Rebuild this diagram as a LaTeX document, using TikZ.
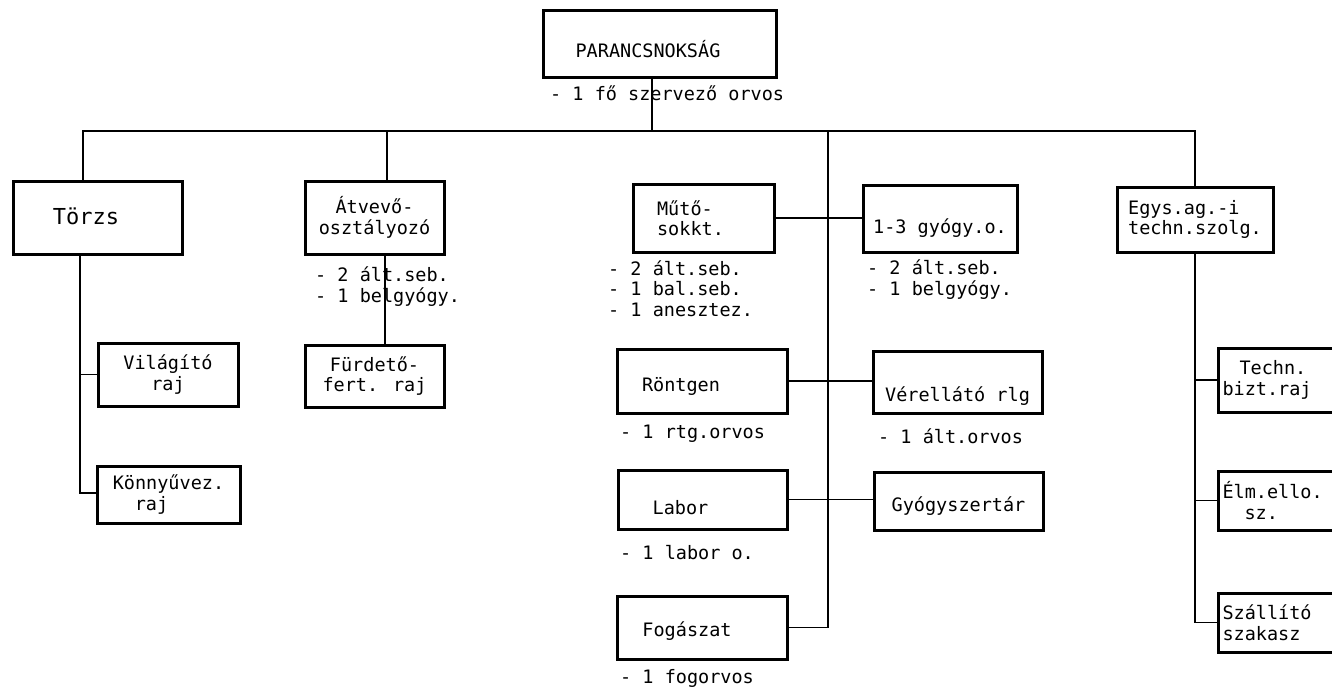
\documentclass[tikz,border=0pt]{standalone}
\usepackage{fontspec}
\setmainfont{DejaVu Sans Mono}
\newcommand\dgfont{\fontsize{18.5}{20.5}\selectfont}
\begin{document}
\begin{tikzpicture}[x=1pt,y=-1pt,
  box/.style={draw, line width=3pt, inner sep=0pt, align=center, font=\dgfont},
  capht/.style={text height=#1, text depth=0pt},
  rbox/.style={box, anchor=west, inner xsep=4pt, text width=125pt, align=left},
  wire/.style={line width=1.6pt},
  note/.style={anchor=base west, inner sep=0pt, align=left, font=\dgfont}
]
\useasboundingbox (0,0) rectangle (1332,688);
\clip (0,0) rectangle (1332,688);

% top
\node[box, minimum width=233pt, minimum height=67pt, capht=27pt] (cmd) at (659.5,43.5) {PARANCSNOKSÁG\hspace*{23pt}};
\node[note] (cmdn) at (550,100) {- 1 fő szervező orvos};

% left column
\node[box, minimum width=169pt, minimum height=73pt, capht=13pt] (torzs) at (97.5,217.5) {{\fontsize{22}{24}\selectfont Törzs}\hspace*{23pt}};
\node[box, minimum width=140pt, minimum height=63pt] (vil) at (168,374.5) {Világító\\raj};
\node[box, minimum width=143pt, minimum height=57pt, align=left] (konny) at (168.5,494.5) {Könnyűvez.\\\hspace*{22pt}raj};

% Atvevo column
\node[box, minimum width=139pt, minimum height=73pt] (atv) at (374.5,217.5) {Átvevő-\\osztályozó};
\node[note] (atvn) at (315,302) {- 2 ált.seb.\\- 1 belgyógy.};
\node[box, minimum width=139pt, minimum height=62pt] (furd) at (374.5,376) {Fürdető-\\fert. raj};

% middle column
\node[box, minimum width=141pt, minimum height=68pt, align=left] (muto) at (703.5,218) {Műtő-\\sokkt.\hspace*{26pt}};
\node[note] (muton) at (608,316) {- 2 ált.seb.\\- 1 bal.seb.\\- 1 anesztez.};
\node[box, minimum width=154pt, minimum height=67pt, capht=30pt] (gyo) at (940,218.5) {1-3 gyógy.o.};
\node[note] (gyon) at (867,295) {- 2 ált.seb.\\- 1 belgyógy.};

\node[box, minimum width=170pt, minimum height=64pt, capht=20pt] (rtg) at (702,381) {Röntgen\hspace*{42pt}};
\node[note] (rtgn) at (620,438) {- 1 rtg.orvos};
\node[box, minimum width=169pt, minimum height=62pt, capht=39pt] (ver) at (957.5,382) {Vérellátó rlg};
\node[note] (vern) at (878,443) {- 1 ált.orvos};

\node[box, minimum width=169pt, minimum height=59pt, capht=29pt] (lab) at (702.5,499.5) {Labor\hspace*{44pt}};
\node[note] (labn) at (620,559) {- 1 labor o.};
\node[box, minimum width=169pt, minimum height=58pt, capht=21pt] (gysz) at (958.5,501) {Gyógyszertár};

\node[box, minimum width=170pt, minimum height=63pt, capht=18pt] (fog) at (702,627.5) {Fogászat\hspace*{30pt}};
\node[note] (fogn) at (620,683) {- 1 fogorvos};

% right column
\node[box, minimum width=156pt, minimum height=65pt, align=left] (egys) at (1195,219.5) {Egys.ag.-i\\techn.szolg.};
\node[rbox, minimum height=64pt] (techn) at (1217,380) {\hspace*{17pt}Techn.\\bizt.raj};
\node[rbox, minimum height=59pt] (elm) at (1217,500.5) {Élm.ello.\\\hspace*{22pt}sz.};
\node[rbox, minimum height=59pt] (szall) at (1217,622.5) {Szállító\\szakasz};

% junction coordinates
\coordinate (j0) at (652,131);
\coordinate (busL) at (83,131);
\coordinate (ja) at (387,131);
\coordinate (jm) at (828,131);
\coordinate (jt) at (80,493);
\coordinate (jf) at (385,300);

% connectors
\draw[wire] (j0 |- cmd.south) -- (j0);
\draw[wire] (busL |- torzs.north) -- (busL) -- (egys.north |- busL) -- (egys.north);
\draw[wire] (ja) -- (ja |- atv.north);
\draw[wire] (jm) -- (jm |- fog.east) -- (fog.east);
\draw[wire] (jt |- torzs.south) -- (jt) -- (jt -| konny.west);
\draw[wire] (vil.west -| jt) -- (vil.west);
\draw[wire] (atv.south -| jf) -- (furd.north -| jf);
\draw[wire] (muto.east) -- (muto.east -| gyo.west);
\draw[wire] (rtg.east) -- (rtg.east -| ver.west);
\draw[wire] (lab.east) -- (lab.east -| gysz.west);
\draw[wire] (egys.south) -- (egys.south |- szall.west) -- (szall.west);
\draw[wire] (techn.west -| egys.south) -- (techn.west);
\draw[wire] (elm.west -| egys.south) -- (elm.west);
\end{tikzpicture}
\end{document}
